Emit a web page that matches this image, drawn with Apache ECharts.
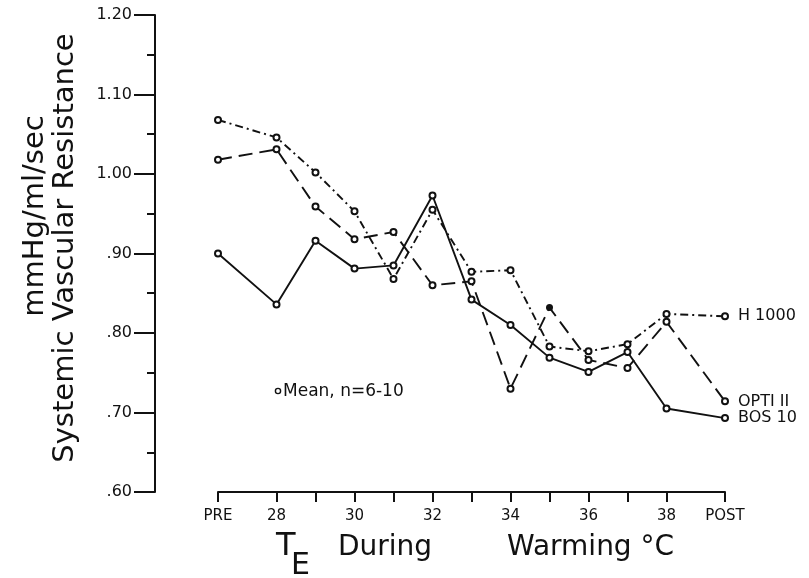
<!DOCTYPE html>
<html>
<head>
<meta charset="utf-8">
<script src="https://cdn.jsdelivr.net/npm/echarts@6/dist/echarts.min.js"></script>
<style>
  html, body { margin: 0; padding: 0; background: #fff; }
  #chart { width: 809px; height: 578px; }
</style>
</head>
<body>
<div id="chart"></div>
<script>
// x categories and where each sits on the temperature scale (PRE / POST are set apart)
const categories = ['PRE', '28', '29', '30', '31', '32', '33', '34', '35', '36', '37', '38', 'POST'];
const tempX = [26.5, 28, 29, 30, 31, 32, 33, 34, 35, 36, 37, 38, 39.5];
const labelledX = [26.5, 28, 30, 32, 34, 36, 38, 39.5];

const h1000 = [1.068, 1.046, 1.002, 0.953, 0.868, 0.955, 0.877, 0.879, 0.783, 0.777, 0.786, 0.824, 0.821];
const opti2 = [1.018, 1.031, 0.959, 0.918, 0.927, 0.860, 0.865, 0.730, 0.832, 0.766, 0.756, 0.814, 0.714];
const bos10 = [0.900, 0.836, 0.916, 0.881, 0.885, 0.973, 0.842, 0.810, 0.769, 0.751, 0.776, 0.705, 0.693];

const yTicks = ['.60', '.70', '.80', '.90', '1.00', '1.10', '1.20'];

const ink = '#111';
const font = 'DejaVu Sans';

function pairs(vals) {
  return vals.map((v, i) => [tempX[i], v]);
}

function makeSeries(name, vals, dash) {
  return {
    name: name,
    type: 'line',
    data: pairs(vals),
    symbol: 'emptyCircle',
    symbolSize: 6,
    showSymbol: true,
    itemStyle: { color: ink, borderWidth: 1.5 },
    lineStyle: { color: ink, width: 1.9, type: dash },
    endLabel: {
      show: true,
      formatter: '{a}',
      distance: 13,
      color: ink,
      fontFamily: font,
      fontSize: 16
    },
    z: 3
  };
}

const chart = echarts.init(document.getElementById('chart'));

const optiSeries = makeSeries('OPTI II', opti2, [14, 7]);
// the 35 degree OPTI II point is drawn solid in the original
optiSeries.data[8] = { value: optiSeries.data[8], symbol: 'circle', symbolSize: 7 };

const option = {
  animation: false,
  backgroundColor: '#fff',
  grid: { left: 218, right: 84, top: 15, bottom: 86 },
  xAxis: {
    type: 'value',
    min: 26.5,
    max: 39.5,
    splitLine: { show: false },
    axisLine: { show: true, lineStyle: { color: ink, width: 2 } },
    axisTick: {
      show: true,
      length: 10,
      customValues: tempX,
      lineStyle: { color: ink, width: 2 }
    },
    axisLabel: {
      customValues: labelledX,
      margin: 17,
      color: ink,
      fontFamily: font,
      fontSize: 15,
      formatter: v => categories[tempX.indexOf(v)]
    }
  },
  yAxis: {
    type: 'value',
    min: 0.6,
    max: 1.2,
    interval: 0.1,
    offset: 63,
    splitLine: { show: false },
    axisLine: { show: true, lineStyle: { color: ink, width: 2 } },
    axisTick: { show: true, length: 21, lineStyle: { color: ink, width: 2 } },
    minorTick: { show: true, splitNumber: 2, length: 8, lineStyle: { color: ink, width: 2 } },
    axisLabel: {
      margin: 23,
      color: ink,
      fontFamily: font,
      fontSize: 16,
      formatter: v => yTicks[Math.round((v - 0.6) * 10)]
    }
  },
  graphic: [
    {
      type: 'text', x: 35, y: 216, rotation: Math.PI / 2,
      style: { text: 'mmHg/ml/sec', font: '29px "DejaVu Sans"', fill: ink, textAlign: 'center', textVerticalAlign: 'middle' }
    },
    {
      type: 'text', x: 65, y: 248, rotation: Math.PI / 2,
      style: { text: 'Systemic Vascular Resistance', font: '29px "DejaVu Sans"', fill: ink, textAlign: 'center', textVerticalAlign: 'middle' }
    },
    {
      type: 'text', x: 276, y: 547,
      style: { text: 'T', font: '32px "DejaVu Sans"', fill: ink, textAlign: 'left', textVerticalAlign: 'middle' }
    },
    {
      type: 'text', x: 291, y: 566,
      style: { text: 'E', font: '30px "DejaVu Sans"', fill: ink, textAlign: 'left', textVerticalAlign: 'middle' }
    },
    {
      type: 'text', x: 338, y: 548,
      style: { text: 'During', font: '28px "DejaVu Sans"', fill: ink, textAlign: 'left', textVerticalAlign: 'middle' }
    },
    {
      type: 'text', x: 507, y: 548,
      style: { text: 'Warming °C', font: '28px "DejaVu Sans"', fill: ink, textAlign: 'left', textVerticalAlign: 'middle' }
    },
    {
      type: 'circle', shape: { cx: 278, cy: 391, r: 2.6 },
      style: { fill: '#fff', stroke: ink, lineWidth: 1.4 }
    },
    {
      type: 'text', x: 283, y: 392,
      style: { text: 'Mean, n=6-10', font: '17px "DejaVu Sans"', fill: ink, textAlign: 'left', textVerticalAlign: 'middle' }
    }
  ],
  series: [
    makeSeries('H 1000', h1000, [8, 4, 2, 4]),
    optiSeries,
    makeSeries('BOS 10', bos10, 'solid')
  ]
};

chart.setOption(option);
</script>
</body>
</html>
